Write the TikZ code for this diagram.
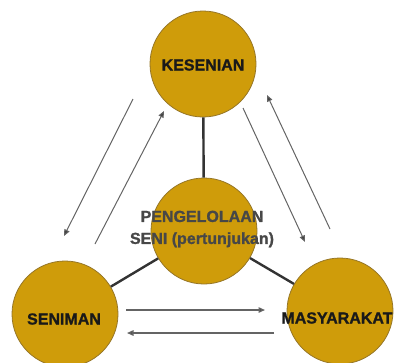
\documentclass[tikz,border=0pt]{standalone}
\usepackage{fontspec}
\setmainfont{Liberation Sans}[BoldFeatures={FakeBold=1.2}]
\usetikzlibrary{arrows.meta}
\definecolor{gold}{RGB}{207,156,10}
\definecolor{goldline}{RGB}{150,118,40}
\definecolor{arrowgray}{RGB}{100,100,100}
\begin{document}
\begin{tikzpicture}[x=1pt,y=-1pt,
  bubble/.style={circle,draw=goldline,fill=gold,line width=0.8pt,minimum size=106pt,inner sep=0pt},
  lbl/.style={font=\fontsize{16}{22}\selectfont\bfseries,text=black!90,inner sep=0pt},
  link/.style={line width=2.4pt,draw=black!80},
  flow/.style={line width=1pt,draw=arrowgray,-{Triangle[length=6.5pt,width=5.5pt,fill=black!75]}},
  flowb/.style={flow,line width=1.4pt}]
\useasboundingbox (0,0) rectangle (396,362);
\clip (0,0) rectangle (396,362);
\node[bubble] (kes) at (203,64) {};
\node[bubble] (peng) at (204,231) {};
\node[bubble] (sen) at (65,314) {};
\node[bubble] (mas) at (340,311) {};
\draw[link] (kes) -- (peng);
\draw[link] (peng) -- (sen);
\draw[link] (peng) -- (mas);
\node[lbl] (kesT) at (203,65) {KESENIAN};
\node[lbl] (senT) at (64,319) {SENIMAN};
\node[lbl] (masT) at (337,318) {MASYARAKAT};
\node[lbl,text=black!72,align=center] (pengT) at (202,229) {PENGELOLAAN\\SENI (pertunjukan)};
\coordinate (a1s) at (133,99);  \coordinate (a1e) at (64,236);
\coordinate (a2s) at (95,244);  \coordinate (a2e) at (164,111);
\coordinate (a3s) at (243,108); \coordinate (a3e) at (305,242);
\coordinate (a4s) at (330,229); \coordinate (a4e) at (267,95);
\coordinate (a5s) at (126,310); \coordinate (a5e) at (265,310);
\coordinate (a6s) at (274,333); \coordinate (a6e) at (127,333);
\draw[flow] (a1s) -- (a1e);
\draw[flow] (a2s) -- (a2e);
\draw[flow] (a3s) -- (a3e);
\draw[flow] (a4s) -- (a4e);
\draw[flowb] (a5s) -- (a5e);
\draw[flowb] (a6s) -- (a6e);
\end{tikzpicture}
\end{document}
